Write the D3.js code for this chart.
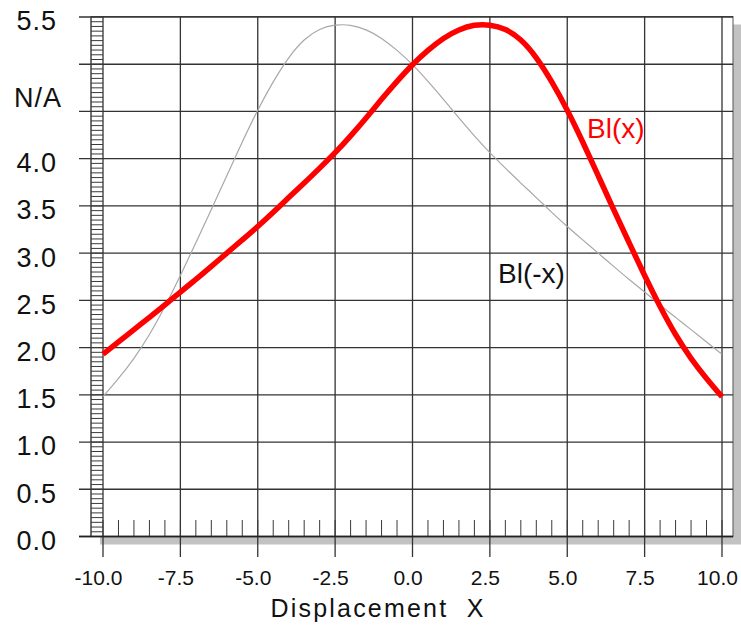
<!DOCTYPE html>
<html lang="en">
<head>
  <meta charset="UTF-8">
  <title>Bl(x) vs Displacement</title>
  <script src="https://d3js.org/d3.v7.min.js"></script>
  <style>
    body {
      margin: 0;
      background: #fff;
    }
    svg text {
      font-family: "Liberation Sans", Arial, sans-serif;
      fill: #111;
    }
  </style>
</head>
<body>
  <script>
    // displacement samples
    const displacement = [
      -10, -9.5, -9, -8.5, -8, -7.5, -7, -6.5, -6, -5.5, -5,
      -4.5, -4, -3.5, -3, -2.5, -2, -1.5, -1, -0.5, 0,
      0.5, 1, 1.5, 2, 2.5, 3, 3.5, 4, 4.5, 5,
      5.5, 6, 6.5, 7, 7.5, 8, 8.5, 9, 9.5, 10
    ];
    // Bl(x)
    const blX = [
      1.93, 2.06, 2.19, 2.32, 2.45, 2.59, 2.72, 2.86, 3.00, 3.14, 3.28,
      3.43, 3.59, 3.74, 3.90, 4.06, 4.24, 4.43, 4.63, 4.82, 5.00,
      5.15, 5.28, 5.37, 5.42, 5.42, 5.38, 5.27, 5.08, 4.82, 4.52,
      4.18, 3.82, 3.46, 3.11, 2.76, 2.43, 2.13, 1.88, 1.67, 1.48
    ];
    // Bl(-x), the mirrored curve
    const blMinusX = [
      1.48, 1.67, 1.88, 2.13, 2.43, 2.76, 3.11, 3.46, 3.82, 4.18,
      4.52, 4.82, 5.08, 5.27, 5.38, 5.42, 5.42, 5.37, 5.28, 5.15,
      5.00, 4.82, 4.63, 4.43, 4.24, 4.06, 3.90, 3.74, 3.59, 3.43,
      3.28, 3.14, 3.00, 2.86, 2.72, 2.59, 2.45, 2.32, 2.19, 2.06, 1.93
    ];
    const xTicks = [-10, -7.5, -5, -2.5, 0, 2.5, 5, 7.5, 10];
    const yTicks = [0, 0.5, 1, 1.5, 2, 2.5, 3, 3.5, 4, 4.5, 5, 5.5];
    const yLabelTicks = [0, 0.5, 1, 1.5, 2, 2.5, 3, 3.5, 4, 5.5];

    const width = 741, height = 628;
    const frame = { left: 91, right: 733, top: 16.5, bottom: 536.5 };

    const svg = d3.select("body").append("svg")
      .attr("width", width)
      .attr("height", height);

    const x = d3.scaleLinear().domain([-10, 10]).range([103, 722]);
    const y = d3.scaleLinear().domain([0, 5.5]).range([536.5, 17]);

    // drop shadow + frame
    svg.append("rect")
      .attr("x", frame.left + 9).attr("y", frame.top + 8)
      .attr("width", frame.right - frame.left).attr("height", frame.bottom - frame.top)
      .attr("fill", "#c2c2c2");
    svg.append("rect")
      .attr("x", frame.left).attr("y", frame.top)
      .attr("width", frame.right - frame.left).attr("height", frame.bottom - frame.top)
      .attr("fill", "#fff")
      .attr("stroke", "#555").attr("stroke-width", 1);

    // horizontal grid (sticks out left as ticks)
    svg.append("g").selectAll("line")
      .data(yTicks)
      .join("line")
      .attr("x1", 79).attr("x2", frame.right)
      .attr("y1", d => y(d)).attr("y2", d => y(d))
      .attr("stroke", "#333").attr("stroke-width", 1.3);

    // vertical grid (sticks out below as ticks)
    svg.append("g").selectAll("line")
      .data(xTicks)
      .join("line")
      .attr("x1", d => x(d)).attr("x2", d => x(d))
      .attr("y1", frame.top).attr("y2", 557)
      .attr("stroke", "#333").attr("stroke-width", 1.3);

    // left ladder ruler
    const ladder = svg.append("g").attr("stroke", "#3a3a3a").attr("stroke-width", 1);
    ladder.append("line").attr("x1", frame.left).attr("x2", frame.left)
      .attr("y1", y(5.5)).attr("y2", y(0));
    ladder.selectAll("line.rung")
      .data(d3.range(0, 111).map(i => i * 0.05))
      .join("line")
      .attr("class", "rung")
      .attr("x1", frame.left).attr("x2", x(-10))
      .attr("y1", d => y(d)).attr("y2", d => y(d));

    // bottom ruler ticks
    svg.append("g").selectAll("line")
      .data(d3.range(0, 41).map(i => -10 + i * 0.5))
      .join("line")
      .attr("x1", d => x(d)).attr("x2", d => x(d))
      .attr("y1", 520).attr("y2", y(0))
      .attr("stroke", "#3a3a3a").attr("stroke-width", 1);

    // bottom axis line
    svg.append("line")
      .attr("x1", 79).attr("x2", frame.right)
      .attr("y1", y(0)).attr("y2", y(0))
      .attr("stroke", "#222").attr("stroke-width", 1.5);

    // curves
    const line = d3.line()
      .x((d, i) => x(displacement[i]))
      .y(d => y(d))
      .curve(d3.curveBasis);

    svg.append("path")
      .attr("d", line(blMinusX))
      .attr("fill", "none")
      .attr("stroke", "#a8a8a8")
      .attr("stroke-width", 1.2);

    svg.append("path")
      .attr("d", line(blX))
      .attr("fill", "none")
      .attr("stroke", "#ff0000")
      .attr("stroke-width", 5.5)
      .attr("stroke-linejoin", "round");

    // y tick labels
    svg.append("g").selectAll("text")
      .data(yLabelTicks)
      .join("text")
      .attr("x", 57)
      .attr("y", d => y(d) + 4)
      .attr("dy", "0.35em")
      .attr("text-anchor", "end")
      .style("font-size", "27px")
      .style("letter-spacing", "1px")
      .text(d => d.toFixed(1));

    svg.append("text")
      .attr("x", 62).attr("y", 97.5)
      .attr("dy", "0.35em")
      .attr("text-anchor", "end")
      .style("font-size", "27px")
      .style("letter-spacing", "1px")
      .text("N/A");

    // x tick labels
    svg.append("g").selectAll("text")
      .data(xTicks)
      .join("text")
      .attr("x", d => x(d) - 4.5)
      .attr("y", 577.5)
      .attr("dy", "0.35em")
      .attr("text-anchor", "middle")
      .style("font-size", "21px")
      .text(d => d.toFixed(1));

    // axis title
    svg.append("text")
      .attr("x", 378).attr("y", 617)
      .attr("text-anchor", "middle")
      .style("font-size", "25px")
      .style("letter-spacing", "2.2px")
      .attr("xml:space", "preserve")
      .text("Displacement  X");

    // curve labels
    svg.append("text")
      .attr("x", 587).attr("y", 138)
      .style("font-size", "28px")
      .style("fill", "#ff0000")
      .text("Bl(x)");

    svg.append("text")
      .attr("x", 498).attr("y", 283)
      .style("font-size", "28px")
      .text("Bl(-x)");
  </script>
</body>
</html>
